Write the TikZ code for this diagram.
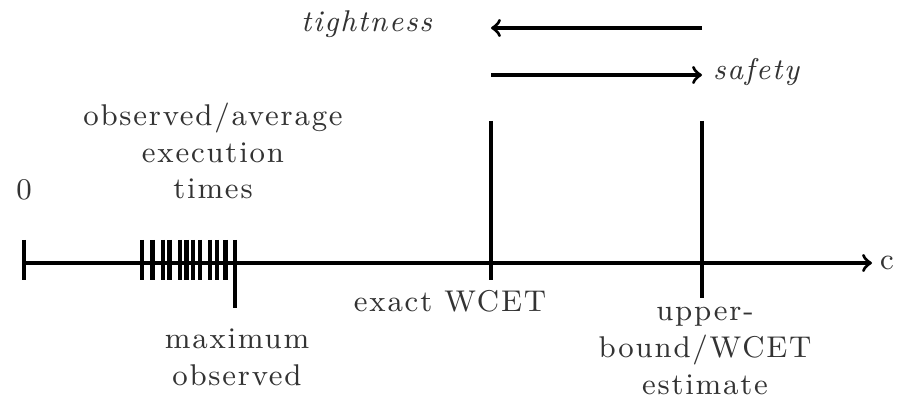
\documentclass[tikz,border=0pt]{standalone}
\usepackage{fontspec}
\setmainfont{Latin Modern Roman}[LetterSpace=6.0]
\usepackage{tikz}
\usetikzlibrary{arrows,calc,positioning}
\tikzstyle{line}=[
  draw=black,
  line width=1pt,
]
\tikzstyle{bar}=[
  draw=black,
  line width=1.6pt,
]
\tikzstyle{label}=[
  font={\small},
  inner sep=0pt,
  outer sep=0pt,
  align=center,
  text=black!80,
]
\tikzset{
  x=0.3pt,
  y=0.3pt,
  >=to,
}

\begin{document}
\begin{tikzpicture}
    \useasboundingbox (0,0) rectangle (897,403);
    % time axis
    \coordinate (origin) at (22,140);
    \coordinate (end) at (872,140);
    \node (c) [label, anchor=west] at (880,140) {c};
    \draw [->, line] (origin) -- (end);
    \node (zero) [label] at (24,213) {0};
    \draw [line] (24,163) -- (24,123);
    % observed execution times
    \foreach \x in {142,163,180,193,200,210,217}
      \draw [line] (\x,163) -- (\x,123);
    \foreach \x in {152.5,169.5,186.5,225.5}
      \draw [bar] (\x,163) -- (\x,123);
    \node (observed) [label] at (213,252) {observed/average\\execution\\times};
    % maximum observed
    \coordinate (maxtop) at (235,163);
    \coordinate (maxbot) at (235,95);
    \draw [line] (maxtop) -- (maxbot);
    \node (maxobs) [label] at (237,46) {maximum\\observed};
    % exact WCET
    \coordinate (wcettop) at (491,282);
    \coordinate (wcetbot) at (491,123);
    \draw [line] (wcettop) -- (wcetbot);
    \node (wcet) [label] at (450,102) {exact WCET};
    % upper bound
    \coordinate (boundtop) at (702,282);
    \coordinate (boundbot) at (702,105);
    \draw [line] (boundtop) -- (boundbot);
    \node (bound) [label] at (705,52) {upper-\\bound/WCET\\estimate};
    % tightness and safety
    \coordinate (tightR) at (702,375);
    \coordinate (tightL) at (491,375);
    \draw [->, line] (tightR) -- (tightL);
    \node (tight) [label, anchor=east] at (432,379) {\itshape tightness};
    \coordinate (safeL) at (491,328);
    \coordinate (safeR) at (702,328);
    \draw [->, line] (safeL) -- (safeR);
    \node (safe) [label, anchor=west] at (713,331) {\itshape safety};
\end{tikzpicture}
\end{document}
